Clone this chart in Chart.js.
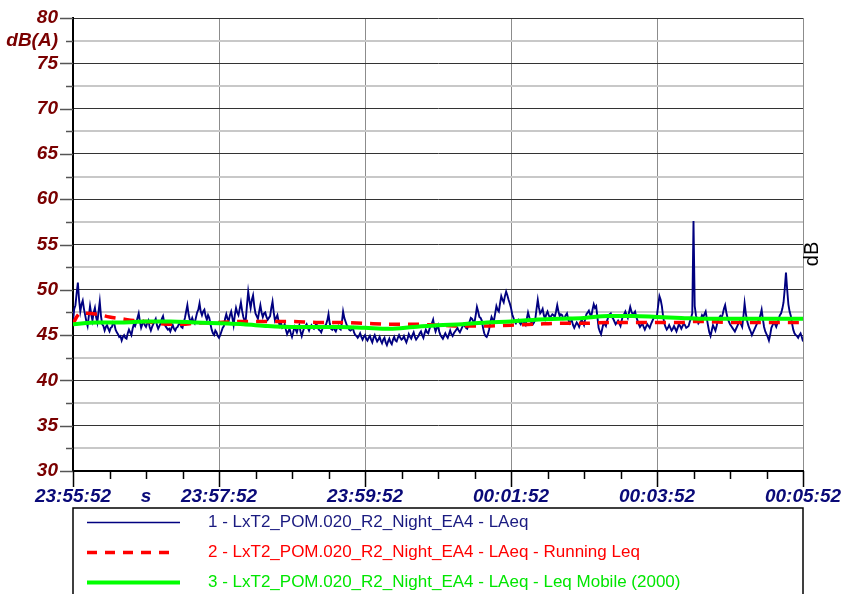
<!DOCTYPE html>
<html>
<head>
<meta charset="utf-8">
<script src="https://cdn.jsdelivr.net/npm/chart.js@4/dist/chart.umd.min.js"></script>
<style>
  html, body { margin: 0; padding: 0; background: #fff; }
  #c { display: block; }
</style>
</head>
<body>
<canvas id="c" width="842" height="594"></canvas>
<script>
// LAeq samples, one per second from 23:55:52
const sampleStep = 1;
const laeq = [
  46.5,47.9,48.3,49.6,50.8,48.9,47.6,48.4,48.8,47.9,47.2,46.5,46.0,47.1,48.2,47.3,46.6,47.5,48.0,47.0,
  46.4,47.6,48.7,47.1,46.2,46.0,45.5,45.9,46.1,45.7,45.4,45.8,45.9,46.4,46.2,45.6,45.3,45.1,44.8,44.9,
  44.4,44.8,45.0,44.7,44.6,45.2,45.6,45.3,45.0,45.7,46.2,46.0,46.4,46.9,47.4,46.5,45.8,46.2,46.5,46.1,
  45.9,46.3,46.6,45.9,45.5,45.9,46.2,46.5,46.8,46.1,45.7,46.0,46.3,46.8,47.1,46.4,46.0,45.8,45.6,45.7,
  45.4,45.8,46.1,45.7,45.5,45.8,45.9,46.2,46.3,45.9,45.8,46.4,46.9,47.6,48.3,47.3,46.7,46.5,46.9,46.5,
  46.3,46.9,47.5,47.8,48.5,47.6,47.2,47.6,47.8,47.1,46.7,47.2,46.9,46.2,45.6,45.2,45.0,45.5,45.3,44.9,
  44.7,45.0,45.4,45.8,46.0,46.8,47.3,46.8,46.6,47.2,47.6,46.9,46.1,47.2,48.0,47.5,47.2,47.9,48.6,47.7,
  47.0,46.6,46.7,48.3,49.8,48.8,48.0,48.9,49.4,48.2,47.4,47.1,46.8,47.6,48.3,47.5,47.0,47.4,47.5,47.0,
  46.7,46.9,47.1,48.0,48.7,47.5,46.6,46.9,47.2,46.5,46.0,46.3,45.8,45.9,46.2,45.6,45.1,45.4,45.7,45.2,
  44.8,45.3,45.9,45.6,45.3,45.8,46.1,45.4,44.9,45.4,45.8,46.0,46.2,45.8,45.5,45.9,46.1,45.8,45.7,46.0,
  46.3,45.9,45.6,45.5,45.3,45.7,45.8,46.0,46.2,46.6,47.3,46.3,45.7,45.6,45.9,45.6,45.4,45.8,46.0,45.7,
  45.6,46.4,47.6,46.9,46.5,46.1,45.9,45.6,45.5,45.6,45.8,45.3,45.0,44.9,44.7,44.9,45.2,44.8,44.5,44.8,
  45.0,44.6,44.4,44.7,44.9,44.5,44.2,44.7,45.0,44.6,44.3,44.5,44.8,44.4,44.1,44.5,44.7,44.2,43.9,44.3,
  44.6,44.2,44.0,44.5,44.8,44.4,44.3,44.7,45.0,44.7,44.5,44.6,44.9,44.5,44.2,44.6,45.1,44.8,44.6,45.0,
  45.3,44.8,44.5,44.7,44.9,45.2,45.4,45.0,44.7,45.2,45.6,45.3,45.2,45.7,46.0,46.3,46.7,45.9,45.4,45.8,
  46.1,45.4,45.0,44.8,44.6,44.9,45.2,44.9,44.7,45.1,45.5,45.1,44.9,45.2,45.4,45.6,45.8,45.5,45.3,45.6,
  45.9,46.2,46.0,45.8,45.7,46.1,46.5,46.9,46.8,46.5,46.4,47.2,48.1,47.6,47.0,46.9,46.6,45.8,45.2,44.9,
  44.8,45.1,45.6,46.4,47.0,46.7,46.6,47.4,48.2,47.8,47.6,48.5,49.3,48.9,48.6,49.3,49.8,49.4,48.9,48.5,
  48.0,47.3,46.9,46.5,46.3,46.6,46.7,46.4,46.2,46.5,46.6,46.3,46.1,46.8,47.5,47.0,46.5,46.4,46.2,46.4,
  46.8,47.9,48.9,48.0,47.4,47.6,47.9,47.2,46.8,47.3,47.6,47.2,46.9,47.1,47.3,47.2,47.0,47.6,48.3,47.6,
  47.1,47.3,47.2,46.8,46.9,47.2,47.4,46.8,46.3,46.5,46.6,46.1,45.8,46.1,46.4,46.2,45.9,46.3,46.7,46.4,
  46.1,46.8,47.3,47.5,47.7,47.3,47.1,47.8,48.4,48.0,48.2,47.0,45.8,45.4,45.1,45.7,46.3,46.2,46.0,46.6,
  47.0,47.3,47.4,47.0,46.8,46.5,46.2,46.4,46.6,46.3,46.0,46.6,47.2,47.3,47.6,47.2,46.9,47.5,48.1,47.6,
  47.3,47.4,47.6,47.0,46.6,46.2,45.9,46.1,46.3,45.9,45.6,45.9,46.2,46.0,45.8,46.2,46.5,46.8,47.0,46.9,
  47.2,48.3,49.3,48.9,48.2,47.1,46.3,45.9,45.6,45.8,46.1,45.8,45.5,45.7,46.0,45.7,45.4,45.8,46.2,46.0,
  45.7,46.0,46.3,46.1,45.8,45.9,
  46.0,46.5,46.9,47.4,57.6,48.2,47.2,46.7,46.3,46.5,46.8,47.2,47.0,47.3,47.6,46.8,46.0,45.3,44.9,45.5,
  46.1,45.8,45.5,46.0,46.6,46.9,47.1,46.9,47.3,47.9,48.3,47.5,46.9,46.5,46.2,46.0,45.8,45.6,45.4,45.7,
  46.0,46.3,46.5,46.2,45.9,47.0,48.5,47.4,46.6,46.1,45.7,45.4,45.0,45.3,45.6,45.9,46.2,46.5,46.8,47.2,
  47.8,46.8,45.9,45.4,45.1,44.8,44.4,45.0,45.8,46.1,46.4,46.2,45.9,46.3,46.8,47.2,47.4,47.9,48.6,50.1,
  51.9,50.0,48.4,47.6,47.1,46.3,45.6,45.2,45.0,44.9,44.7,45.0,45.2,44.8,44.3
];

// Running Leq
const runningTimes = [0,3,6,10,20,30,40,50,60,70,80,90,100,120,140,160,180,200,220,240,260,280,300,320,340,360,380,400,420,440,460,480,500,510,520,540,560,580,600];
const runningLeq = [46.2,47.0,47.4,47.4,47.3,47.0,46.8,46.6,46.5,46.3,46.2,46.2,46.3,46.4,46.5,46.5,46.5,46.4,46.4,46.3,46.2,46.2,46.1,46.0,46.0,46.1,46.2,46.3,46.3,46.4,46.4,46.4,46.4,46.5,46.5,46.4,46.4,46.4,46.4];

// Leq Mobile (2000)
const mobileTimes = [0,20,40,60,80,100,120,140,160,180,200,220,240,260,280,300,320,340,360,380,400,420,440,460,480,500,520,540,560,580,600];
const mobileLeq = [46.2,46.4,46.4,46.5,46.5,46.4,46.3,46.2,46.0,45.9,45.9,45.9,45.8,45.7,45.9,46.1,46.2,46.4,46.5,46.7,46.8,46.9,47.1,47.1,47.0,46.9,46.8,46.8,46.8,46.8,46.8];

// ticks and their labels
const xTickValues = [0,30,60,90,120,150,180,210,240,270,300,330,360,390,420,450,480,510,540,570,600];
const xLabelTicks = [0, 60, 120, 240, 360, 480, 600];
const xLabelText = ['23:55:52', 's', '23:57:52', '23:59:52', '00:01:52', '00:03:52', '00:05:52'];
const yTickValues = [30,32.5,35,37.5,40,42.5,45,47.5,50,52.5,55,57.5,60,62.5,65,67.5,70,72.5,75,77.5,80];
const yUnitTick = 77.5;
const yUnitText = 'dB(A)';

const legendLabels = [
  '1 - LxT2_POM.020_R2_Night_EA4 - LAeq',
  '2 - LxT2_POM.020_R2_Night_EA4 - LAeq - Running Leq',
  '3 - LxT2_POM.020_R2_Night_EA4 - LAeq - Leq Mobile (2000)'
];
const seriesColors = ['#000080', '#ff0000', '#00ff00'];
const legendTextColors = ['#1a1a80', '#ff0000', '#00e600'];

const FONT = '"Liberation Sans", Arial, sans-serif';

const isMajorY = v => v % 5 === 0;

// light half-step grid, drawn under the series
const minorGrid = {
  id: 'minorGrid',
  beforeDatasetsDraw(chart) {
    const ctx = chart.ctx;
    const area = chart.chartArea;
    const ys = chart.scales.y;
    ctx.save();
    ctx.strokeStyle = '#c8c8c8';
    ctx.lineWidth = 2;
    yTickValues.forEach(v => {
      if (isMajorY(v)) return;
      const py = Math.round(ys.getPixelForValue(v));
      ctx.beginPath();
      ctx.moveTo(area.left + 1, py);
      ctx.lineTo(area.right, py);
      ctx.stroke();
    });
    ctx.restore();
  }
};

// tick marks, right unit label and the boxed legend
const decorations = {
  id: 'decorations',
  afterDraw(chart) {
    const ctx = chart.ctx;
    const area = chart.chartArea;
    const xs = chart.scales.x;
    const ys = chart.scales.y;
    ctx.save();

    yTickValues.forEach(v => {
      const py = Math.round(ys.getPixelForValue(v)) + 0.5;
      ctx.strokeStyle = '#555';
      ctx.lineWidth = 1.5;
      ctx.beginPath();
      ctx.moveTo(isMajorY(v) ? area.left - 13 : area.left - 7, py);
      ctx.lineTo(area.left, py);
      ctx.stroke();
    });

    xTickValues.forEach(v => {
      const px = Math.round(xs.getPixelForValue(v)) + 0.5;
      const major = v % 120 === 0;
      ctx.strokeStyle = '#000';
      ctx.lineWidth = 1.5;
      ctx.beginPath();
      ctx.moveTo(px, area.bottom);
      ctx.lineTo(px, area.bottom + (major ? 16 : 8));
      ctx.stroke();
    });

    // unit on the right side
    ctx.save();
    ctx.translate(area.right + 9, 254);
    ctx.rotate(-Math.PI / 2);
    ctx.fillStyle = '#000';
    ctx.font = '20px ' + FONT;
    ctx.textAlign = 'center';
    ctx.textBaseline = 'middle';
    ctx.fillText('dB', 0, 0);
    ctx.restore();

    // legend box
    const boxTop = 508;
    ctx.fillStyle = '#fff';
    ctx.fillRect(area.left, boxTop, area.right - area.left, chart.height - boxTop + 5);
    ctx.strokeStyle = '#000';
    ctx.lineWidth = 1.5;
    ctx.strokeRect(area.left, boxTop, area.right - area.left, chart.height - boxTop + 5);

    const rows = [522.5, 552.5, 582.5];
    const widths = [1.3, 3.5, 4];
    ctx.font = '17px ' + FONT;
    ctx.textAlign = 'left';
    ctx.textBaseline = 'middle';
    legendLabels.forEach((label, i) => {
      ctx.strokeStyle = seriesColors[i];
      ctx.lineWidth = widths[i];
      ctx.setLineDash(i === 1 ? [10, 8] : []);
      ctx.beginPath();
      ctx.moveTo(87, rows[i]);
      ctx.lineTo(i === 1 ? 175 : 180, rows[i]);
      ctx.stroke();
      ctx.setLineDash([]);
      ctx.fillStyle = legendTextColors[i];
      ctx.fillText(label, 208, rows[i]);
    });

    ctx.restore();
  }
};

// keep the plot box fixed: no extra room for half labels
function noScalePadding(s) {
  s.paddingTop = 0;
  s.paddingBottom = 0;
  s.paddingLeft = 0;
  s.paddingRight = 0;
}

new Chart(document.getElementById('c'), {
  type: 'line',
  data: {
    datasets: [
      {
        label: legendLabels[0],
        data: laeq.map((v, i) => ({ x: i * sampleStep, y: v })),
        borderColor: seriesColors[0],
        borderWidth: 1.9,
        pointRadius: 0,
        tension: 0,
        order: 3
      },
      {
        label: legendLabels[1],
        data: runningTimes.map((t, i) => ({ x: t, y: runningLeq[i] })),
        borderColor: seriesColors[1],
        borderWidth: 3.5,
        borderDash: [11, 8],
        pointRadius: 0,
        cubicInterpolationMode: 'monotone',
        order: 2
      },
      {
        label: legendLabels[2],
        data: mobileTimes.map((t, i) => ({ x: t, y: mobileLeq[i] })),
        borderColor: seriesColors[2],
        borderWidth: 4,
        pointRadius: 0,
        cubicInterpolationMode: 'monotone',
        order: 1
      }
    ]
  },
  options: {
    responsive: false,
    animation: false,
    devicePixelRatio: 1,
    layout: { padding: { top: 18, right: 39, left: 0, bottom: 0 } },
    plugins: { legend: { display: false }, tooltip: { enabled: false } },
    scales: {
      x: {
        type: 'linear',
        min: 0,
        max: 600,
        afterFit(s) { s.height = 123; noScalePadding(s); },
        afterBuildTicks(s) { s.ticks = xTickValues.map(v => ({ value: v })); },
        ticks: {
          autoSkip: false,
          maxRotation: 0,
          padding: 14,
          color: '#0a0a78',
          font: { family: FONT, size: 19, style: 'italic', weight: 'bold' },
          callback(v) {
            const i = xLabelTicks.indexOf(v);
            return i >= 0 ? xLabelText[i] : '';
          }
        },
        grid: {
          drawTicks: false,
          color: c => (c.tick && c.tick.value % 120 === 0) ? '#8c8c8c' : 'rgba(0,0,0,0)',
          lineWidth: 1
        },
        border: { color: '#000', width: 2 }
      },
      y: {
        min: 30,
        max: 80,
        afterFit(s) { s.width = 73; noScalePadding(s); },
        afterBuildTicks(s) { s.ticks = yTickValues.map(v => ({ value: v })); },
        ticks: {
          autoSkip: false,
          padding: 15,
          color: '#7a0000',
          font: { family: FONT, size: 19, style: 'italic', weight: 'bold' },
          callback(v) {
            if (v === yUnitTick) return yUnitText;
            return isMajorY(v) ? String(v) : '';
          }
        },
        grid: {
          drawTicks: false,
          color: c => (c.tick && isMajorY(c.tick.value)) ? '#333' : 'rgba(0,0,0,0)',
          lineWidth: 1
        },
        border: { color: '#000', width: 2 }
      }
    }
  },
  plugins: [minorGrid, decorations]
});
</script>
</body>
</html>
